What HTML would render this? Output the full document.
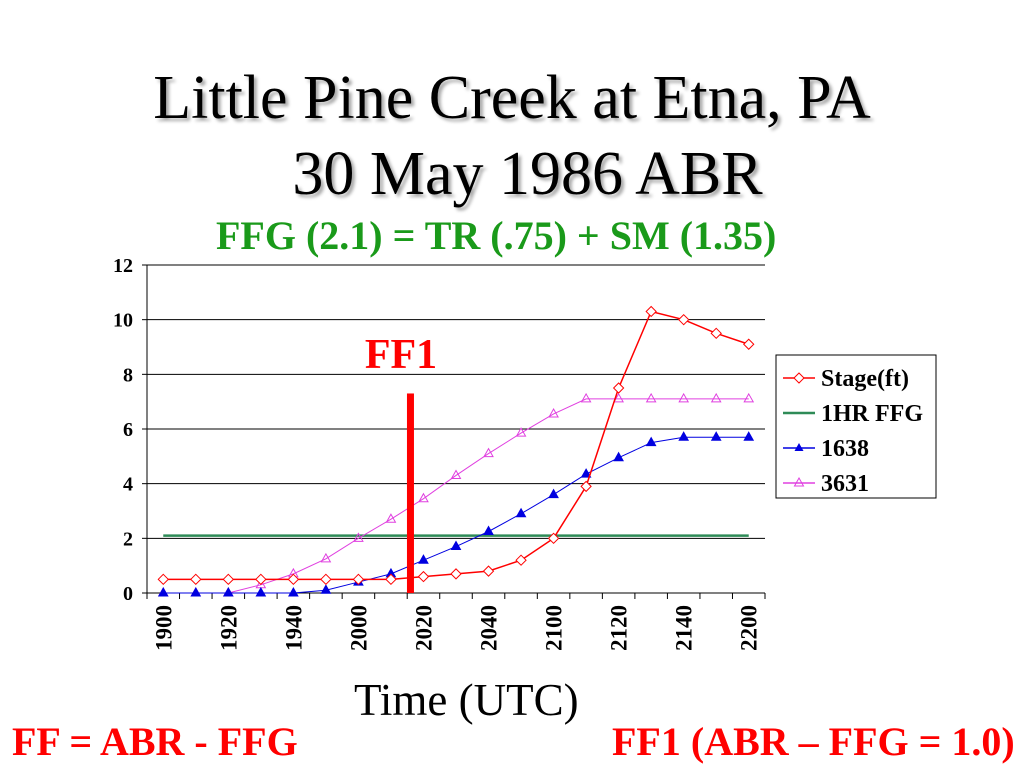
<!DOCTYPE html>
<html><head><meta charset="utf-8"><style>
body{margin:0;width:1024px;height:768px;background:#fff;overflow:hidden;position:relative;font-family:"Liberation Serif",serif}
.t{position:absolute;text-align:center;width:1024px;left:0}
</style></head><body>
<div class="t" style="top:60px;font-size:62px;line-height:76px;text-shadow:3px 3px 3px #aaa;">Little Pine Creek at Etna, PA<br>&nbsp;&nbsp;30 May 1986 ABR</div>
<div style="position:absolute;left:216px;top:212px;font-size:40px;font-weight:bold;color:#1a9a1a;white-space:nowrap">FFG (2.1) = TR (.75) + SM (1.35)</div>
<svg id="c" width="1024" height="768" style="position:absolute;left:0;top:0"></svg>
<div style="position:absolute;left:354px;top:674px;font-size:45px;white-space:nowrap">Time (UTC)</div>
<div style="position:absolute;left:12px;top:718px;font-size:40px;font-weight:bold;color:#f00;white-space:nowrap">FF = ABR - FFG</div>
<div style="position:absolute;left:612px;top:718px;font-size:40px;font-weight:bold;color:#f00;white-space:nowrap">FF1 (ABR – FFG = 1.0)</div>
<script>
const categories=["1900","1910","1920","1930","1940","1950","2000","2010","2020","2030","2040","2050","2100","2110","2120","2130","2140","2150","2200"];
const stage=[0.5,0.5,0.5,0.5,0.5,0.5,0.5,0.5,0.6,0.7,0.8,1.2,2.0,3.9,7.5,10.3,10.0,9.5,9.1];
const ffg=[2.1,2.1,2.1,2.1,2.1,2.1,2.1,2.1,2.1,2.1,2.1,2.1,2.1,2.1,2.1,2.1,2.1,2.1,2.1];
const s1638=[0,0,0,0,0,0.1,0.4,0.7,1.2,1.7,2.25,2.9,3.6,4.35,4.95,5.5,5.7,5.7,5.7];
const s3631=[0,0,0,0.3,0.7,1.25,2.0,2.7,3.45,4.3,5.1,5.85,6.55,7.1,7.1,7.1,7.1,7.1,7.1];
const yTicks=[0,2,4,6,8,10,12];
const ff1Value=7.3, ff1Index=7.6;
const NS="http://www.w3.org/2000/svg",svg=document.getElementById('c');
const L=147,R=765,T=265,B=593,bw=(R-L)/categories.length;
const x=i=>L+bw*(i+0.5), y=v=>B-(v/12)*(B-T);
function mk(t,a,p){const e=document.createElementNS(NS,t);for(const k in a)e.setAttribute(k,a[k]);(p||svg).appendChild(e);return e;}
yTicks.forEach(v=>{
 if(v>0){const g=mk('line',{x1:L,x2:R,y1:y(v),y2:y(v),stroke:'#000','stroke-width':1});
 
 }
 const t=mk('text',{x:L-14,y:y(v)+7,'text-anchor':'end','font-size':20,'font-weight':'bold','font-family':'Liberation Serif'});t.textContent=v;
 
 
 mk('line',{x1:L-5,x2:L,y1:y(v),y2:y(v),stroke:'#000'});
});
mk('line',{x1:L,x2:L,y1:T,y2:B,stroke:'#000'});
mk('line',{x1:L,x2:R,y1:B,y2:B,stroke:'#000'});
for(let i=0;i<=categories.length;i++)mk('line',{x1:L+bw*i,x2:L+bw*i,y1:B,y2:B+6,stroke:'#000'});
categories.forEach((c,i)=>{if(i%2)return;
 const t=mk('text',{transform:`translate(${x(i)+8},${B+12}) rotate(-90)`,'text-anchor':'end','font-size':23,'font-weight':'bold','font-family':'Liberation Serif'});t.textContent=c;
 
 });
function series(d,col,w,mark,name){
 const p=mk('polyline',{points:d.map((v,i)=>x(i)+','+y(v)).join(' '),fill:'none',stroke:col,'stroke-width':w});
 
 
 d.forEach((v,i)=>{const cx=x(i),cy=y(v);let m;
  if(mark==='d')m=mk('polygon',{points:`${cx},${cy-5} ${cx+5},${cy} ${cx},${cy+5} ${cx-5},${cy}`,fill:'#fff',stroke:col});
  else if(mark==='t')m=mk('polygon',{points:`${cx},${cy-5} ${cx+4.5},${cy+3} ${cx-4.5},${cy+3}`,fill:col,stroke:col});
  else if(mark==='to')m=mk('polygon',{points:`${cx},${cy-5} ${cx+4.5},${cy+3} ${cx-4.5},${cy+3}`,fill:'none',stroke:col});
  if(m){
  }});
}
series(ffg,'#2e8b57',2.5,null,'ffg');
series(s3631,'#e040e0',1,'to','s3631');
series(s1638,'#0000e0',1,'t','s1638');
series(stage,'#f00',1.5,'d','stage');
const bar=mk('rect',{x:x(ff1Index)-3.5,y:y(ff1Value),width:7,height:B-y(ff1Value),fill:'#f00'});


const ft=mk('text',{x:401,y:368,'text-anchor':'middle','font-size':42,'font-weight':'bold',fill:'#f00','font-family':'Liberation Serif'});ft.textContent='FF1';


const lg=mk('rect',{x:776,y:355,width:160,height:143,fill:'#fff',stroke:'#000'});


[['Stage(ft)','#f00','d'],['1HR FFG','#2e8b57',null],['1638','#0000e0','t'],['3631','#e040e0','to']].forEach((e,i)=>{
 const cy=378+i*35,g=mk('g',{});
 
 
 mk('line',{x1:783,x2:815,y1:cy,y2:cy,stroke:e[1],'stroke-width':e[2]?1.5:2.5},g);
 if(e[2]==='d')mk('polygon',{points:`799,${cy-5} 804,${cy} 799,${cy+5} 794,${cy}`,fill:'#fff',stroke:e[1]},g);
 if(e[2]==='t')mk('polygon',{points:`799,${cy-5} 803.5,${cy+3} 794.5,${cy+3}`,fill:e[1]},g);
 if(e[2]==='to')mk('polygon',{points:`799,${cy-5} 803.5,${cy+3} 794.5,${cy+3}`,fill:'none',stroke:e[1]},g);
 const t=mk('text',{x:821,y:cy+8,'font-size':24,'font-weight':'bold','font-family':'Liberation Serif'},g);t.textContent=e[0];
});
</script>
</body></html>
